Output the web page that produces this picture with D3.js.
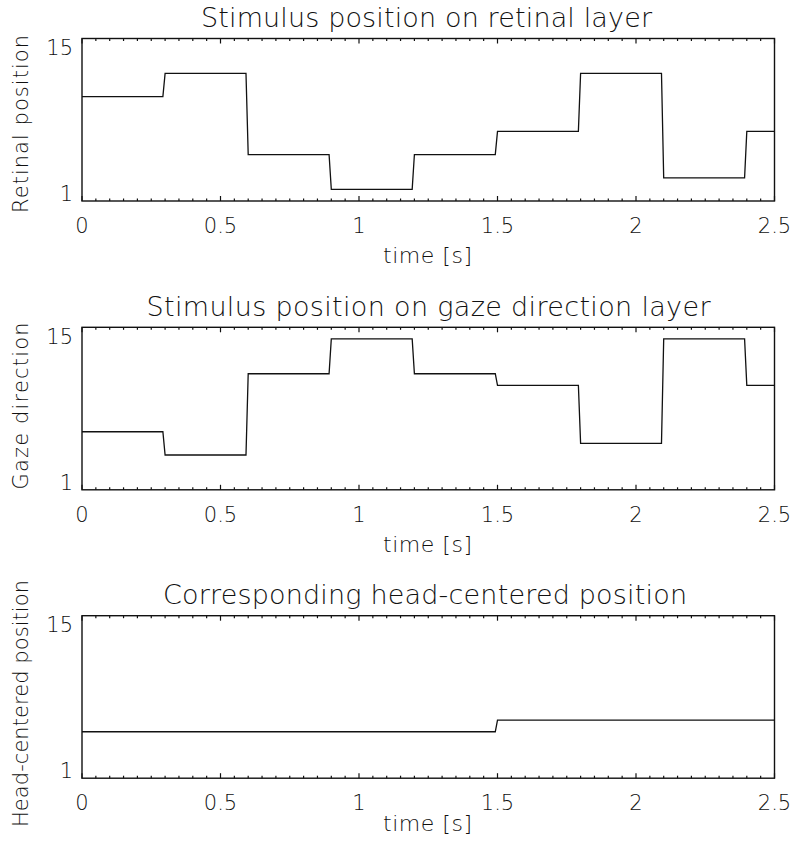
<!DOCTYPE html>
<html>
<head>
<meta charset="utf-8">
<script src="https://cdn.jsdelivr.net/npm/d3@7"></script>
<style>
  body { margin: 0; background: #fff; }
  text { font-family: "DejaVu Sans", sans-serif; font-weight: 200; fill: #111; }
</style>
</head>
<body>
<svg width="793" height="843"></svg>
<script>
// step onsets (s) and layer positions
const stepTimes = [0, 0.3, 0.6, 0.9, 1.2, 1.5, 1.8, 2.1, 2.4];
const retinal = [10, 12, 5, 2, 5, 7, 12, 3, 7];
const gaze = [6, 4, 11, 14, 11, 10, 5, 14, 10];
const headTimes = [0, 1.5];
const headPos = [5, 6];
const tEnd = 2.5;

const xTicks = [0, 0.5, 1, 1.5, 2, 2.5];
const yTicks = [1, 15];

const titles = [
    "Stimulus position on retinal layer",
    "Stimulus position on gaze direction layer",
    "Corresponding head-centered position"
];
const yLabels = ["Retinal position", "Gaze direction", "Head-centered position"];

const left = 82, right = 774.5;
const panelH = 162.5;
const ramp = 0.008; // sampling makes the jumps slightly slanted

// per-panel layout
const layout = [
    { top: 38.5,  titleX: 426.5, titleLen: 451, yMid: 124,   yLen: 178, timeDy: 62 },
    { top: 327.3, titleX: 428.5, titleLen: 564, yMid: 406,   yLen: 167, timeDy: 62 },
    { top: 615.7, titleX: 425,   titleLen: 524, yMid: 703.5, yLen: 247, timeDy: 53 }
];

const svg = d3.select("svg");

const x = d3.scaleLinear().domain([0, tEnd]).range([left, right]);

// turn onsets + values into a sampled step signal
function stepPoints(ts, vs) {
    const pts = [];
    ts.forEach((t, i) => {
        const next = i < ts.length - 1 ? ts[i + 1] - ramp : tEnd;
        pts.push([t, vs[i]], [next, vs[i]]);
    });
    return pts;
}

function drawPanel(L, title, ylabel, ts, vs) {
    const top = L.top;
    const y = d3.scaleLinear().domain([1, 15]).range([top + panelH, top]);
    const g = svg.append("g");

    // minor / major ticks, bottom and top, pointing inward
    const minor = d3.range(0, tEnd + 1e-9, 0.05);
    [top + panelH, top].forEach((yy, k) => {
        const dir = k === 0 ? -1 : 1;
        g.selectAll(null)
            .data(minor)
            .enter().append("line")
            .attr("x1", d => x(d)).attr("x2", d => x(d))
            .attr("y1", yy)
            .attr("y2", d => yy + dir * (xTicks.some(m => Math.abs(m - d) < 1e-6) ? 5 : 2.5))
            .attr("stroke", "#111")
            .attr("stroke-width", 1.2);
    });

    // frame
    g.append("rect")
        .attr("x", left).attr("y", top)
        .attr("width", right - left).attr("height", panelH)
        .attr("fill", "none")
        .attr("stroke", "#111")
        .attr("stroke-width", 1.4);

    // x tick labels
    g.selectAll(null)
        .data(xTicks)
        .enter().append("text")
        .attr("x", d => x(d))
        .attr("y", top + panelH + 32)
        .attr("text-anchor", "middle")
        .style("font-size", "21px")
        .text(d => d3.format("~g")(d));

    // y tick labels (top one hangs below its tick)
    g.selectAll(null)
        .data(yTicks)
        .enter().append("text")
        .attr("x", 73)
        .attr("y", d => y(d))
        .attr("dy", d => d === 15 ? "0.78em" : "0")
        .attr("text-anchor", "end")
        .style("font-size", "21px")
        .text(d => d);

    // axis titles
    g.append("text")
        .attr("x", 427.5)
        .attr("y", top + panelH + L.timeDy)
        .attr("text-anchor", "middle")
        .style("font-size", "22px")
        .attr("textLength", 89)
        .attr("lengthAdjust", "spacing")
        .text("time [s]");

    g.append("text")
        .attr("transform", `translate(28, ${L.yMid}) rotate(-90)`)
        .attr("text-anchor", "middle")
        .style("font-size", "21px")
        .attr("textLength", L.yLen)
        .attr("lengthAdjust", "spacing")
        .text(ylabel);

    g.append("text")
        .attr("x", L.titleX)
        .attr("y", top - 11.5)
        .attr("text-anchor", "middle")
        .style("font-size", "27px")
        .attr("textLength", L.titleLen)
        .attr("lengthAdjust", "spacing")
        .text(title);

    const line = d3.line()
        .x(d => x(d[0]))
        .y(d => y(d[1]));

    g.append("path")
        .datum(stepPoints(ts, vs))
        .attr("d", line)
        .attr("fill", "none")
        .attr("stroke", "#111")
        .attr("stroke-width", 1.3);
}

drawPanel(layout[0], titles[0], yLabels[0], stepTimes, retinal);
drawPanel(layout[1], titles[1], yLabels[1], stepTimes, gaze);
drawPanel(layout[2], titles[2], yLabels[2], headTimes, headPos);
</script>
</body>
</html>
